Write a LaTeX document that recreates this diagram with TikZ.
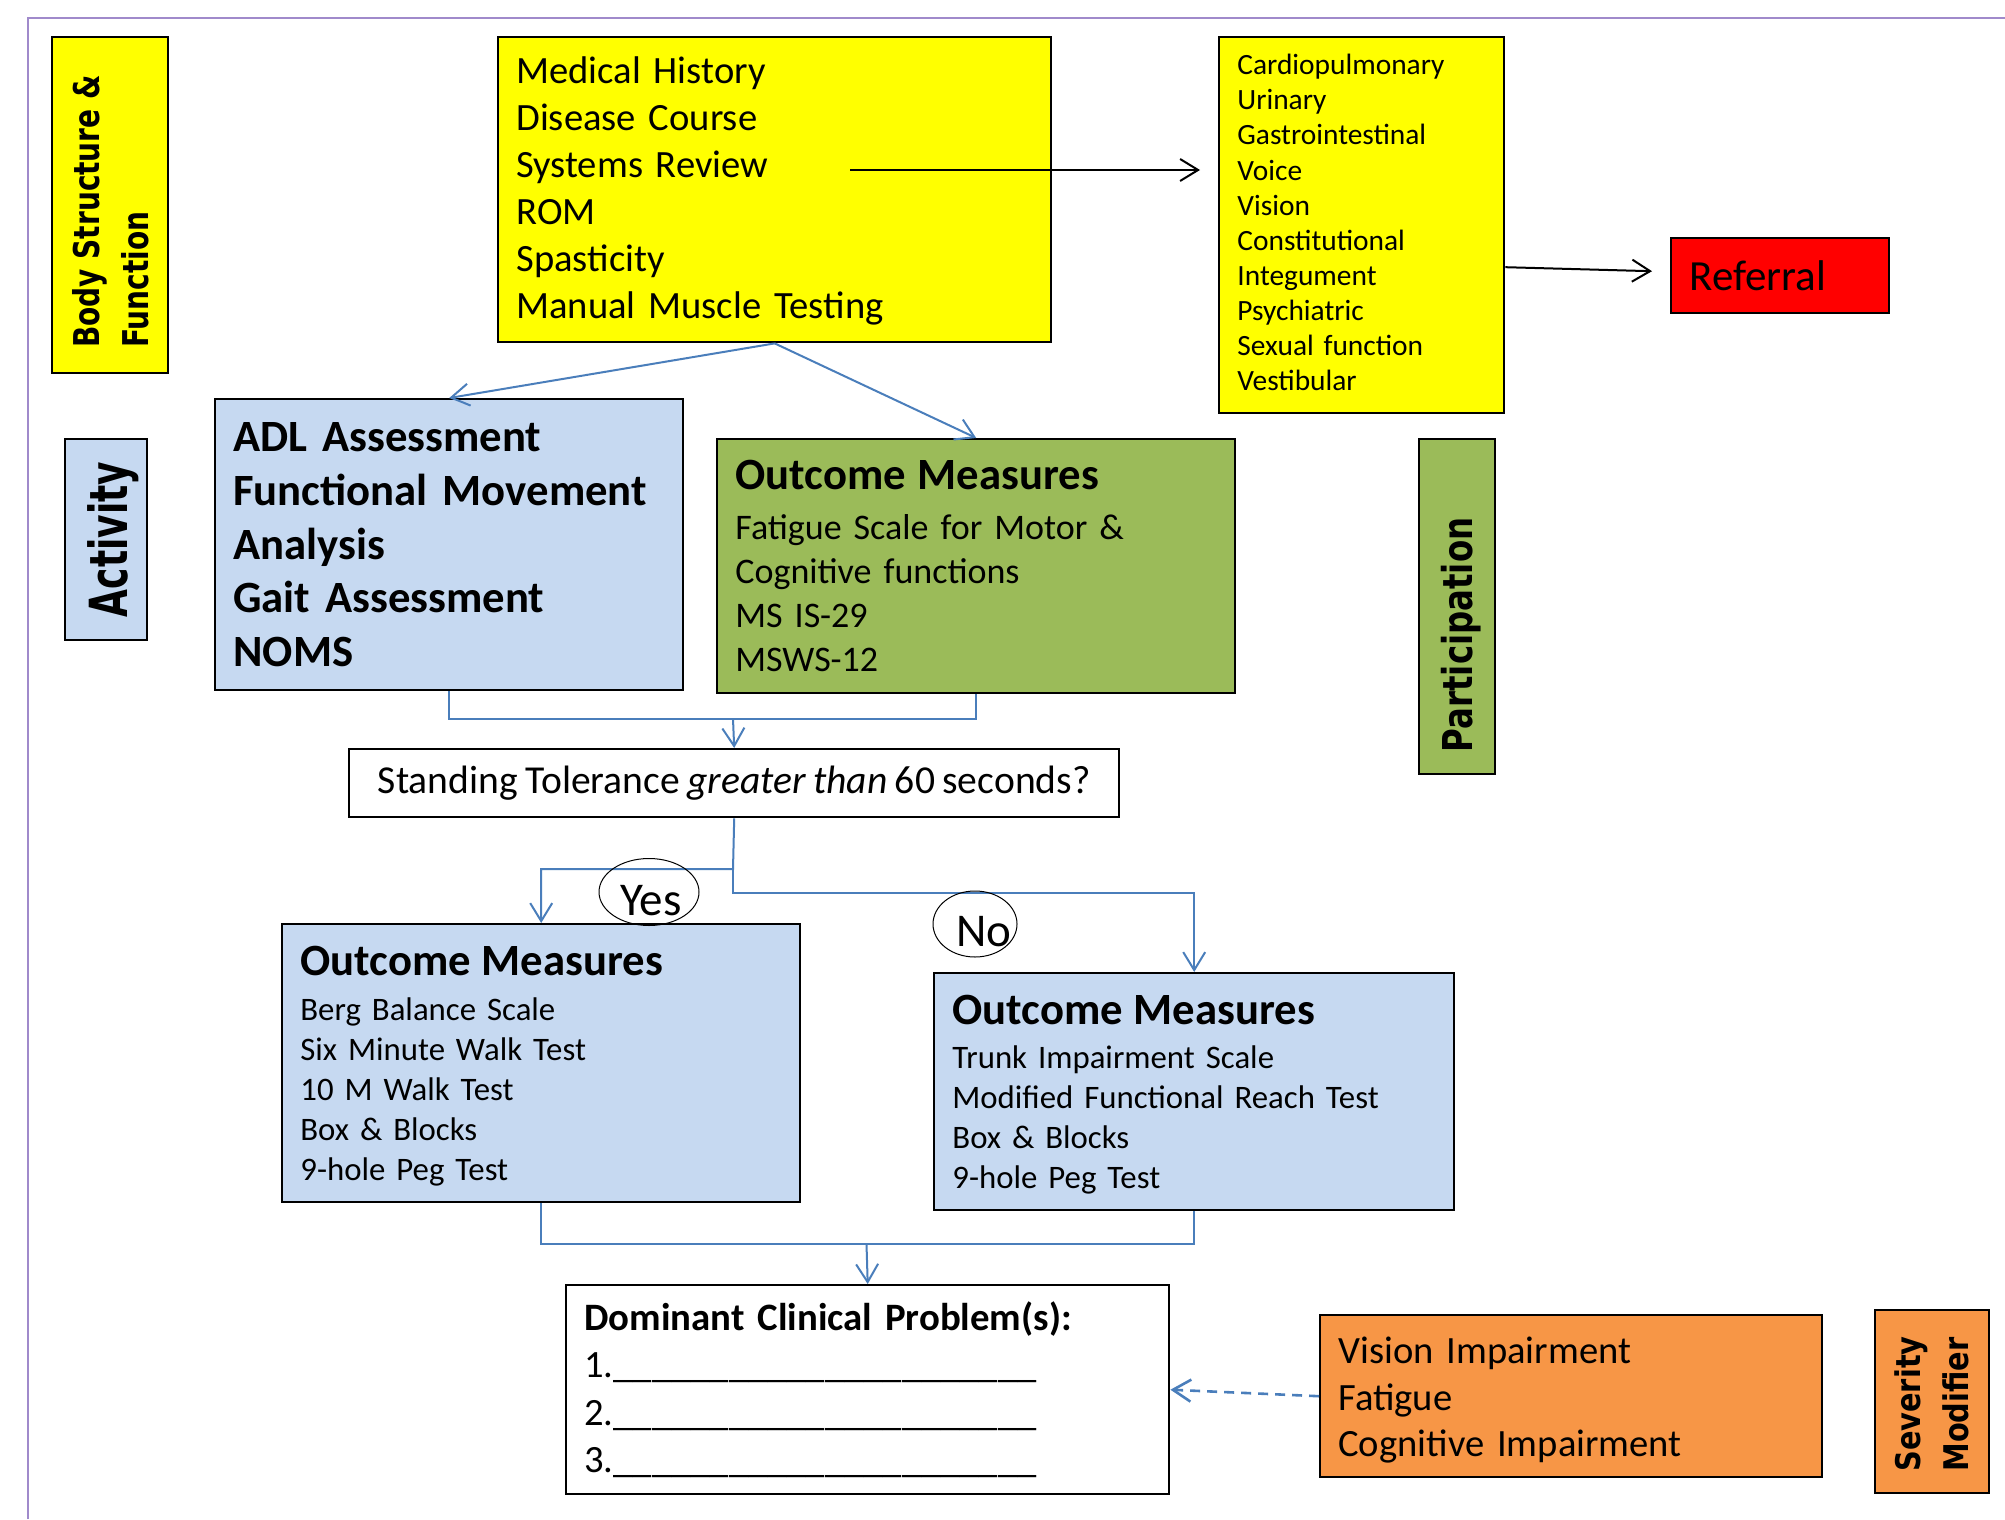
\documentclass[tikz,border=0pt]{standalone}
\usepackage{fontspec}
\setmainfont{Carlito}[WordSpace=0.82]
\newfontfamily\vlab{DejaVu Sans}
\usetikzlibrary{arrows.meta,shapes.geometric}
\definecolor{yel}{HTML}{FFFF00}
\definecolor{lblue}{HTML}{C6D9F1}
\definecolor{grn}{HTML}{9BBB59}
\definecolor{orng}{HTML}{F79646}
\definecolor{refred}{HTML}{FF0000}
\definecolor{connc}{HTML}{4A7EBB}
\definecolor{framec}{HTML}{A08ACB}
\newcommand\myblank{\_\_\_\_\_\_\_\_\_\_\_\_\_\_\_\_\_\_\_\_\_\_}
\begin{document}
\begin{tikzpicture}[x=0.5pt,y=-0.5pt,
  bx/.style={draw=black, line width=1.2pt, anchor=north west, inner sep=0pt},
  txt/.style={anchor=west, inner sep=0pt, align=left, xshift=9.5pt},
  vtxt/.style={inner sep=0pt, align=left, rotate=90},
  connline/.style={draw=connc, line width=1pt},
  conn/.style={connline, -{Straight Barb[length=9pt,width=11pt]}},
  blk/.style={draw=black, line width=1pt, -{Straight Barb[length=9pt,width=11pt]}},
  lbl/.style={ellipse, draw=black, line width=0.5pt, inner sep=0pt}
]
\useasboundingbox (0,0) rectangle (2005,1519);
% frame
\draw[framec, line width=0.8pt] (28,1519) -- (28,18) -- (2005,18);

% boxes
\node[bx, fill=yel, minimum width=58pt, minimum height=168pt] (bsf) at (51,36) {};
\node[bx, fill=yel, minimum width=276.5pt, minimum height=152.5pt] (med) at (497,36) {};
\node[bx, fill=yel, minimum width=142.5pt, minimum height=188pt] (sys) at (1218,36) {};
\node[bx, fill=refred, minimum width=109pt, minimum height=37.5pt] (ref) at (1670,237) {};
\node[bx, fill=lblue, minimum width=41pt, minimum height=100.5pt] (act) at (64,438) {};
\node[bx, fill=lblue, minimum width=234pt, minimum height=145.5pt] (adl) at (214,398) {};
\node[bx, fill=grn, minimum width=259pt, minimum height=127pt] (grnb) at (716,438) {};
\node[bx, fill=grn, minimum width=38pt, minimum height=167.5pt] (par) at (1418,438) {};
\node[bx, fill=white, minimum width=385pt, minimum height=34pt,
      font=\fontsize{19.8}{23.5}\selectfont] (stand) at (348,748)
      {\raisebox{-1pt}{Standing Tolerance \textit{greater than} 60 seconds?}};
\node[bx, fill=lblue, minimum width=259pt, minimum height=139pt] (yesb) at (281,923) {};
\node[bx, fill=lblue, minimum width=260pt, minimum height=118.5pt] (nob) at (933,972) {};
\node[bx, fill=white, minimum width=301.5pt, minimum height=104.5pt] (dom) at (565,1284) {};
\node[bx, fill=orng, minimum width=251pt, minimum height=81pt] (org) at (1319,1314) {};
\node[bx, fill=orng, minimum width=57pt, minimum height=91.5pt] (sev) at (1874,1309) {};

% vertical labels
\node[vtxt, font=\vlab\bfseries\fontsize{14}{19.3}\selectfont, yscale=1.27] (bsftxt)
  at (110.5,211.5) {Body Structure \&\\Function};
\node[vtxt, anchor=base, font=\vlab\bfseries\fontsize{18}{22}\selectfont, yscale=1.46] (acttxt)
  at (127,539.5) {Activity};
\node[vtxt, anchor=base, font=\vlab\bfseries\fontsize{16.2}{20}\selectfont, yscale=1.27] (partxt)
  at (1472,635) {Participation};
\node[vtxt, font=\vlab\bfseries\fontsize{14.4}{20.3}\selectfont, yscale=1.18] (sevtxt)
  at (1932,1404) {Severity\\Modifier};

% box texts
\node[txt, yshift=-0.6pt, text width=260pt, font=\fontsize{19.3}{23.5}\selectfont] (medtxt) at (med.west)
  {Medical History\\Disease Course\\Systems Review\\ROM\\Spasticity\\Manual Muscle Testing};
\node[txt, yshift=1.3pt, text width=130pt, font=\fontsize{14.7}{17.55}\selectfont] (systxt) at (sys.west)
  {Cardiopulmonary\\Urinary\\Gastrointestinal\\Voice\\Vision\\Constitutional\\Integument\\Psychiatric\\Sexual function\\Vestibular};
\node[txt, text width=95pt, font=\fontsize{21.5}{25}\selectfont] (reftxt) at (ref.west) {Referral};
\node[txt, text width=220pt, font=\bfseries\fontsize{22.35}{26.85}\selectfont] (adltxt) at (adl.west)
  {ADL Assessment\\Functional Movement\\Analysis\\Gait Assessment\\NOMS};
\node[txt, text width=245pt, font=\fontsize{18}{21.95}\selectfont] (grntxt) at (grnb.west)
  {{\bfseries\fontsize{22.35}{21.95}\selectfont Outcome Measures}\\[3pt]Fatigue Scale for Motor \&\\Cognitive functions\\MS IS-29\\MSWS-12};
\node[txt, yshift=-1.5pt, text width=245pt, font=\fontsize{16.4}{20}\selectfont] (yestxt) at (yesb.west)
  {{\bfseries\fontsize{22.35}{20}\selectfont Outcome Measures}\\[2.3pt]Berg Balance Scale\\Six Minute Walk Test\\10 M Walk Test\\Box \& Blocks\\9-hole Peg Test};
\node[txt, yshift=-1.5pt, text width=245pt, font=\fontsize{16.4}{20}\selectfont] (notxt) at (nob.west)
  {{\bfseries\fontsize{22.35}{20}\selectfont Outcome Measures}\\[2.3pt]Trunk Impairment Scale\\Modified Functional Reach Test\\Box \& Blocks\\9-hole Peg Test};
\node[txt, text width=285pt, font=\fontsize{19.3}{23.6}\selectfont] (domtxt) at (dom.west)
  {{\bfseries\fontsize{19.4}{23.6}\selectfont Dominant Clinical Problem(s):}\\1.\myblank\\2.\myblank\\3.\myblank};
\node[txt, yshift=-2pt, text width=235pt, font=\fontsize{19.3}{23.4}\selectfont] (orgtxt) at (org.west)
  {Vision Impairment\\Fatigue\\Cognitive Impairment};

% connectors
\coordinate (srv) at (850,170);
\draw[blk, shorten >=9pt] (srv) -- (srv -| sys.west);
\draw[blk, shorten >=9pt] ([yshift=-21pt]sys.east) -- ([yshift=2pt]ref.west);
\draw[conn] (med.south) -- (adl.north);
\draw[conn] (med.south) -- (grnb.north);
\coordinate (j1) at (733,719);
\draw[connline] (adl.south) |- (j1) -| (grnb.south);
\draw[conn] (j1) -- (stand.north);
\coordinate (j2) at (733,869);
\coordinate (j3) at (733,893);
\draw[conn] (stand.south) -- (j2) -| (yesb.north);
\draw[conn] (j2) -- (j3) -| (nob.north);
\coordinate (j4) at (866.5,1244);
\draw[connline] (yesb.south) |- (j4) -| (nob.south);
\draw[conn] (j4) -- (dom.north);
\draw[conn, line width=1.3pt, dash pattern=on 5pt off 3.5pt] (org.west) -- (dom.east);

% yes / no labels
\node[lbl, minimum width=50pt, minimum height=33.5pt] (yesell) at (649,892) {};
\node[inner sep=0pt, font=\fontsize{23.5}{28}\selectfont] (yeslbl) at (651,901) {Yes};
\node[lbl, minimum width=42pt, minimum height=33pt] (noell) at (975,924) {};
\node[inner sep=0pt, font=\fontsize{23.5}{28}\selectfont] (nolbl) at (984,932) {No};
\end{tikzpicture}
\end{document}
